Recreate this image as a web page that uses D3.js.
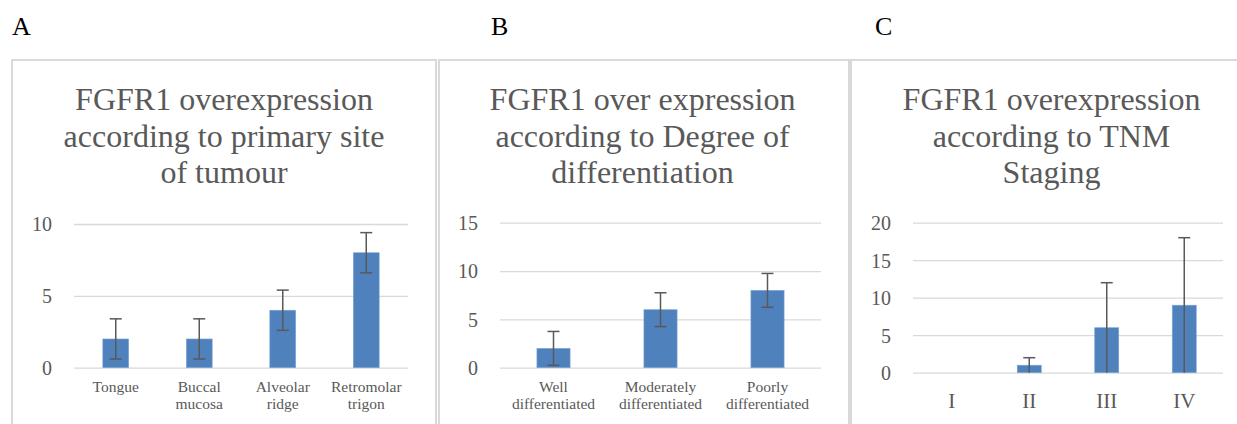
<!DOCTYPE html>
<html>
<head>
<meta charset="utf-8">
<script src="https://cdn.jsdelivr.net/npm/d3@7"></script>
<style>
  body { margin: 0; background: #fff; }
  svg { display: block; font-family: "Liberation Serif", "Times New Roman", serif; }
</style>
</head>
<body>
<div id="chart"></div>
<script>
// panel A: primary site
const siteCategories = [["Tongue"], ["Buccal", "mucosa"], ["Alveolar", "ridge"], ["Retromolar", "trigon"]];
const siteValues = [2, 2, 4, 8];
const siteErrors = [1.4, 1.4, 1.4, 1.4];
const siteTicks = [0, 5, 10];

// panel B: degree of differentiation
const gradeCategories = [["Well", "differentiated"], ["Moderately", "differentiated"], ["Poorly", "differentiated"]];
const gradeValues = [2, 6, 8];
const gradeErrors = [1.75, 1.75, 1.75];
const gradeTicks = [0, 5, 10, 15];

// panel C: TNM staging
const stageCategories = [["I"], ["II"], ["III"], ["IV"]];
const stageValues = [0, 1, 6, 9];
const stageErrors = [0, 1, 6, 9];
const stageTicks = [0, 5, 10, 15, 20];

const font = "Liberation Serif";

const panels = [
  {
    letter: "A", letterX: 12,
    box: [12, 60, 424, 380],
    title: ["FGFR1 overexpression", "according to primary site", "of tumour"],
    titleX: 224,
    cats: siteCategories, values: siteValues, errors: siteErrors, ticks: siteTicks,
    x0: 74, x1: 408, yTop: 224, yZero: 367.7,
    labelSize: 15.5, labelY: 392
  },
  {
    letter: "B", letterX: 491,
    box: [439, 60, 410, 380],
    title: ["FGFR1 over expression", "according to Degree of", "differentiation"],
    titleX: 642.5,
    cats: gradeCategories, values: gradeValues, errors: gradeErrors, ticks: gradeTicks,
    x0: 500, x1: 821, yTop: 222.7, yZero: 367.7,
    labelSize: 15.5, labelY: 392
  },
  {
    letter: "C", letterX: 875,
    box: [851, 60, 400, 380],
    title: ["FGFR1 overexpression", "according to TNM", "Staging"],
    titleX: 1051.5,
    cats: stageCategories, values: stageValues, errors: stageErrors, ticks: stageTicks,
    x0: 913, x1: 1223, yTop: 222.7, yZero: 372.7,
    labelSize: 21, labelY: 408
  }
];

const w = 1237;
const h = 424;

const svg = d3.select("#chart").append("svg").attr("width", w).attr("height", h);

panels.forEach(drawPanel);

function drawPanel(p) {
  const g = svg.append("g").attr("font-family", font);

  g.append("rect")
    .attr("x", p.box[0])
    .attr("y", p.box[1])
    .attr("width", p.box[2])
    .attr("height", p.box[3])
    .attr("fill", "#fff")
    .attr("stroke", "#d9d9d9")
    .attr("stroke-width", 2);

  g.append("text")
    .attr("x", p.letterX)
    .attr("y", 35)
    .attr("font-family", font)
    .attr("font-size", 26)
    .attr("fill", "#000")
    .text(p.letter);

  g.append("text")
    .attr("text-anchor", "middle")
    .attr("font-family", font)
    .attr("font-size", 32)
    .attr("fill", "#595959")
    .selectAll("tspan")
    .data(p.title)
    .enter()
    .append("tspan")
    .attr("x", p.titleX)
    .attr("y", (d, i) => 110 + i * 36.7)
    .text((d) => d);

  const xScale = d3.scaleBand()
    .domain(p.cats.map((d, i) => i))
    .range([p.x0, p.x1])
    .paddingInner(0.69)
    .paddingOuter(0.345);

  const yScale = d3.scaleLinear()
    .domain([0, d3.max(p.ticks)])
    .range([p.yZero, p.yTop]);

  const axis = g.append("g")
    .attr("transform", `translate(${p.x0},0)`)
    .call(d3.axisLeft(yScale).tickValues(p.ticks).tickSize(-(p.x1 - p.x0)).tickPadding(22));

  axis.attr("font-family", font);
  axis.select(".domain").remove();
  axis.selectAll(".tick line").attr("stroke", "#d9d9d9").attr("stroke-width", 1.3);
  axis.selectAll(".tick text")
    .attr("font-family", font)
    .attr("font-size", 20)
    .attr("fill", "#595959")
    .attr("dy", "0.34em");

  g.selectAll(".bar")
    .data(p.values)
    .enter()
    .append("rect")
    .attr("class", "bar")
    .attr("x", (d, i) => xScale(i))
    .attr("y", (d) => yScale(d))
    .attr("width", xScale.bandwidth())
    .attr("height", (d) => yScale(0) - yScale(d))
    .attr("fill", "#4f81bd")
    .attr("stroke", (d) => (d > 0 ? "#7fa6d6" : "none"))
    .attr("stroke-width", 0.6);

  const cx = (i) => xScale(i) + xScale.bandwidth() / 2;
  const lo = (d, i) => Math.max(0, d - p.errors[i]);
  const hi = (d, i) => d + p.errors[i];

  const err = g.selectAll(".err")
    .data(p.values)
    .enter()
    .append("g")
    .attr("class", "err")
    .attr("stroke", "#595959")
    .attr("stroke-width", 1.5)
    .style("display", (d, i) => (p.errors[i] > 0 ? null : "none"));

  err.append("line")
    .attr("x1", (d, i) => cx(i))
    .attr("x2", (d, i) => cx(i))
    .attr("y1", (d, i) => yScale(lo(d, i)))
    .attr("y2", (d, i) => yScale(hi(d, i)));

  err.append("line")
    .attr("x1", (d, i) => cx(i) - 6)
    .attr("x2", (d, i) => cx(i) + 6)
    .attr("y1", (d, i) => yScale(hi(d, i)))
    .attr("y2", (d, i) => yScale(hi(d, i)));

  err.filter((d, i) => lo(d, i) > 0)
    .append("line")
    .attr("x1", (d, i) => cx(i) - 6)
    .attr("x2", (d, i) => cx(i) + 6)
    .attr("y1", (d, i) => yScale(lo(d, i)))
    .attr("y2", (d, i) => yScale(lo(d, i)));

  g.selectAll(".cat")
    .data(p.cats)
    .enter()
    .append("text")
    .attr("class", "cat")
    .attr("text-anchor", "middle")
    .attr("font-family", font)
    .attr("font-size", p.labelSize)
    .attr("fill", "#595959")
    .each(function (d, i) {
      d3.select(this)
        .selectAll("tspan")
        .data(d)
        .enter()
        .append("tspan")
        .attr("x", cx(i))
        .attr("y", (t, j) => p.labelY + j * 17)
        .text((t) => t);
    });
}
</script>
</body>
</html>
